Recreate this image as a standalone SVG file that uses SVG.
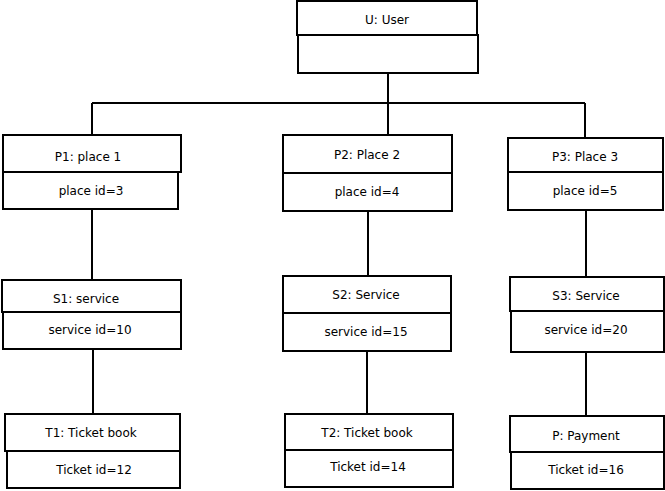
<svg xmlns="http://www.w3.org/2000/svg" width="665" height="491" viewBox="0 0 665 491">
  <style>
    .box { fill: #ffffff; stroke: #000000; stroke-width: 2; }
    .lbl { font-family: "DejaVu Sans", Verdana, sans-serif; font-size: 12px; fill: #000000; text-anchor: middle; dominant-baseline: central; }
    .wire { fill: none; stroke: #000000; stroke-width: 2; }
  </style>
  <rect width="665" height="491" fill="#ffffff"/>

  <g id="connectors">
    <path class="wire" d="M388 73 V134"/>
    <path class="wire" d="M92 103 H585"/>
    <path class="wire" d="M92 103 V135"/>
    <path class="wire" d="M585 103 V138"/>
    <path class="wire" d="M92 209 V280"/>
    <path class="wire" d="M368 211 V276"/>
    <path class="wire" d="M586 210 V277"/>
    <path class="wire" d="M93 349 V414"/>
    <path class="wire" d="M367 351 V414"/>
    <path class="wire" d="M586 352 V416"/>
  </g>

  <g id="user">
    <rect class="box" x="297" y="1" width="180" height="34"/>
    <rect class="box" x="298" y="35" width="180" height="38"/>
    <text class="lbl" x="387" y="20">U: User</text>
  </g>

  <g id="p1">
    <rect class="box" x="3" y="135" width="178" height="37"/>
    <rect class="box" x="3" y="172" width="175" height="37"/>
    <text class="lbl" x="88" y="157">P1: place 1</text>
    <text class="lbl" x="91" y="191">place id=3</text>
  </g>

  <g id="p2">
    <rect class="box" x="283" y="135" width="169" height="38"/>
    <rect class="box" x="283" y="173" width="169" height="38"/>
    <text class="lbl" x="367" y="155">P2: Place 2</text>
    <text class="lbl" x="367" y="192">place id=4</text>
  </g>

  <g id="p3">
    <rect class="box" x="508" y="138" width="155" height="34"/>
    <rect class="box" x="508" y="172" width="155" height="38"/>
    <text class="lbl" x="585" y="157">P3: Place 3</text>
    <text class="lbl" x="585" y="191">place id=5</text>
  </g>

  <g id="s1">
    <rect class="box" x="2" y="280" width="179" height="32"/>
    <rect class="box" x="3" y="312" width="178" height="37"/>
    <text class="lbl" x="86" y="299">S1: service</text>
    <text class="lbl" x="90" y="330">service id=10</text>
  </g>

  <g id="s2">
    <rect class="box" x="283" y="276" width="168" height="37"/>
    <rect class="box" x="283" y="313" width="168" height="38"/>
    <text class="lbl" x="366" y="295">S2: Service</text>
    <text class="lbl" x="366" y="332">service id=15</text>
  </g>

  <g id="s3">
    <rect class="box" x="510" y="277" width="154" height="34"/>
    <rect class="box" x="511" y="311" width="153" height="41"/>
    <text class="lbl" x="586" y="296">S3: Service</text>
    <text class="lbl" x="586" y="330">service id=20</text>
  </g>

  <g id="t1">
    <rect class="box" x="5" y="414" width="175" height="37"/>
    <rect class="box" x="7" y="451" width="173" height="37"/>
    <text class="lbl" x="91" y="433">T1: Ticket book</text>
    <text class="lbl" x="94" y="470">Ticket id=12</text>
  </g>

  <g id="t2">
    <rect class="box" x="285" y="414" width="168" height="36"/>
    <rect class="box" x="285" y="450" width="168" height="37"/>
    <text class="lbl" x="367" y="433">T2: Ticket book</text>
    <text class="lbl" x="368" y="467">Ticket id=14</text>
  </g>

  <g id="payment">
    <rect class="box" x="510" y="416" width="154" height="36"/>
    <rect class="box" x="511" y="452" width="153" height="37"/>
    <text class="lbl" x="586" y="436">P: Payment</text>
    <text class="lbl" x="586" y="470">Ticket id=16</text>
  </g>
</svg>
